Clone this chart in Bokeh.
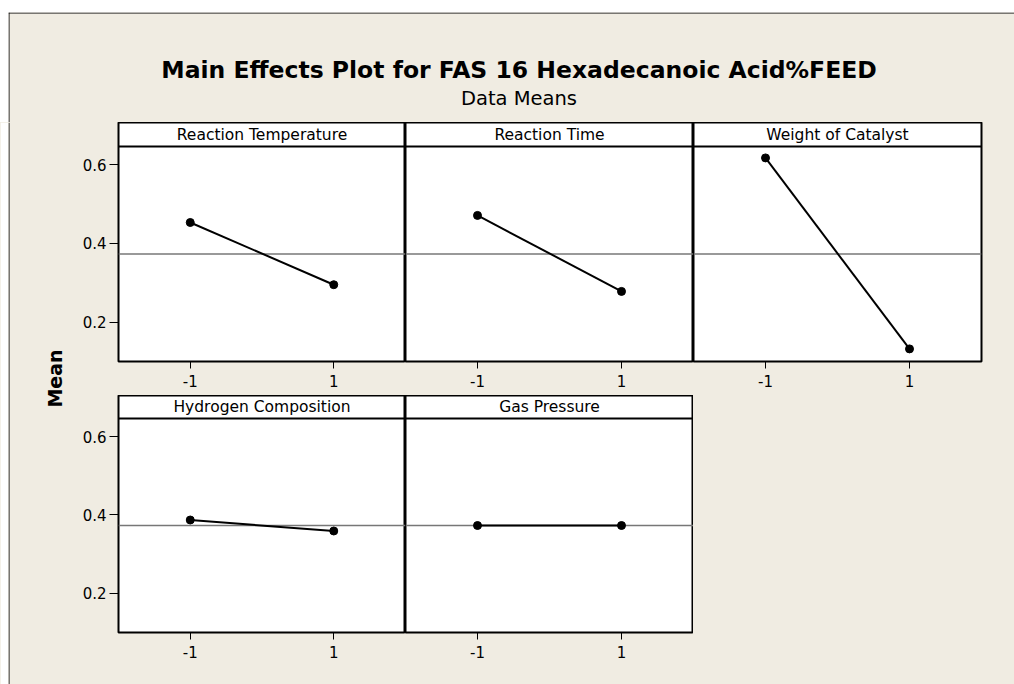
import numpy as np
from bokeh.plotting import figure
from bokeh.layouts import row, column
from bokeh.models import Range1d, Span, Label, FixedTicker, ColumnDataSource
from bokeh.embed import file_html
from bokeh.resources import INLINE

# ---------------- data ----------------
factors = ["Reaction Temperature", "Reaction Time", "Weight of Catalyst",
           "Hydrogen Composition", "Gas Pressure"]
levels = [-1, 1]
level_labels = ["-1", "1"]
mean_low = [0.453, 0.471, 0.617, 0.387, 0.373]
mean_high = [0.295, 0.278, 0.132, 0.359, 0.373]
grand_mean = 0.373
y_ticks = [0.2, 0.4, 0.6]
y_tick_labels = ["0.2", "0.4", "0.6"]
title_text = "Main Effects Plot for FAS 16 Hexadecanoic Acid%FEED"
subtitle_text = "Data Means"
ylabel_text = "Mean"

# ---------------- layout / style ----------------
BG = "#F0ECE2"
FONT = "DejaVu Sans"
TOTAL_W = 1014
TITLE_H = 122
PAGE_L, PAGE_T = 8, 12          # white margin before the graph border
MEAN_W = 78
LEFT_B = 40
COL_W = [287, 288, 288]
RIGHT_B = TOTAL_W - MEAN_W - LEFT_B - sum(COL_W)
ROW_FRAME = [239, 237]
HEADER = [24, 23]
ROW_BOTTOM = [34, 52]
Y0, Y1 = 0.10, 0.646
X0, X1 = -2, 2


def make_panel(i, r, c):
    fw = COL_W[c]
    left = LEFT_B if c == 0 else 0
    right = RIGHT_B if c == 2 else 0
    plot_px = ROW_FRAME[r] - HEADER[r]
    ppu = plot_px / (Y1 - Y0)
    y_end = Y1 + HEADER[r] / ppu
    p = figure(width=fw + left + right, height=ROW_FRAME[r] + ROW_BOTTOM[r],
               x_range=Range1d(X0, X1), y_range=Range1d(Y0, y_end),
               output_backend="svg", toolbar_location=None,
               min_border_left=left, min_border_right=right,
               min_border_top=0, min_border_bottom=ROW_BOTTOM[r],
               y_axis_type="linear" if c == 0 else None, title=None)
    p.grid.visible = False
    p.background_fill_color = "white"
    p.border_fill_color = BG
    p.outline_line_color = "black"
    p.outline_line_width = 2

    xa = p.xaxis[0]
    xa.ticker = FixedTicker(ticks=levels)
    xa.major_label_overrides = dict(zip(levels, level_labels))
    xa.axis_line_color = None
    xa.major_tick_out = 7
    xa.major_tick_in = 0
    xa.major_tick_line_color = "black"
    xa.minor_tick_line_color = None
    xa.major_label_standoff = 6
    xa.major_label_text_font = FONT
    xa.major_label_text_font_size = "15px"
    xa.major_label_text_color = "black"

    if c == 0:
        ya = p.yaxis[0]
        ya.ticker = FixedTicker(ticks=y_ticks)
        ya.major_label_overrides = dict(zip(y_ticks, y_tick_labels))
        ya.axis_line_color = None
        ya.major_tick_out = 9
        ya.major_tick_in = 0
        ya.major_tick_line_color = "black"
        ya.minor_tick_line_color = None
        ya.major_label_standoff = 3
        ya.major_label_text_font = FONT
        ya.major_label_text_font_size = "15px"
        ya.major_label_text_color = "black"

    # grand mean reference line (beneath the data)
    p.add_layout(Span(location=grand_mean, dimension="width",
                      line_color="#777777", line_width=1.5, level="underlay"))
    # header strip separator and label
    p.add_layout(Span(location=Y1, dimension="width",
                      line_color="black", line_width=2))
    p.add_layout(Label(x=(X0 + X1) / 2, y=Y1 + HEADER[r] / 2 / ppu,
                       text=factors[i], text_align="center",
                       text_baseline="middle", text_font=FONT,
                       text_font_size="15.5px", text_color="black"))

    src = ColumnDataSource(dict(x=levels, y=[mean_low[i], mean_high[i]]))
    p.line("x", "y", source=src, line_color="black", line_width=2)
    p.scatter("x", "y", source=src, size=8, fill_color="black",
              line_color="black")
    return p


panels = []
positions = [(0, 0), (0, 1), (0, 2), (1, 0), (1, 1)]
for i, (r, c) in enumerate(positions):
    panels.append(make_panel(i, r, c))

# title area (screen-like coordinates: y grows downward)
tf = figure(width=TOTAL_W, height=TITLE_H,
            x_range=Range1d(PAGE_L, TOTAL_W), y_range=Range1d(TITLE_H, PAGE_T),
            x_axis_type=None, y_axis_type=None,
            min_border_left=PAGE_L, min_border_top=PAGE_T,
            min_border_right=0, min_border_bottom=0,
            toolbar_location=None, output_backend="svg", title=None)
tf.outline_line_color = None
tf.background_fill_color = BG
tf.border_fill_color = "white"
tf.add_layout(Label(x=518.5, y=69, text=title_text,
                    text_align="center", text_baseline="alphabetic",
                    text_font=FONT, text_font_style="bold",
                    text_font_size="23.5px", text_color="black"))
tf.add_layout(Label(x=518.5, y=98, text=subtitle_text,
                    text_align="center", text_baseline="alphabetic",
                    text_font=FONT, text_font_size="19.5px",
                    text_color="black"))
tf.add_layout(Span(location=PAGE_T + 0.5, dimension="width",
                   line_color="black", line_width=1))
tf.add_layout(Span(location=PAGE_L + 0.5, dimension="height",
                   line_color="black", line_width=1))

# left "Mean" label area
body_h = ROW_FRAME[0] + ROW_BOTTOM[0] + ROW_FRAME[1] + ROW_BOTTOM[1]
mf = figure(width=MEAN_W, height=body_h,
            x_range=Range1d(PAGE_L, MEAN_W),
            y_range=Range1d(TITLE_H + body_h, TITLE_H),
            x_axis_type=None, y_axis_type=None,
            min_border_left=PAGE_L, min_border_top=0,
            min_border_right=0, min_border_bottom=0,
            toolbar_location=None, output_backend="svg", title=None)
mf.outline_line_color = None
mf.background_fill_color = BG
mf.border_fill_color = "white"
mf.add_layout(Label(x=54, y=378, text=ylabel_text,
                    angle=np.pi / 2, text_align="center",
                    text_baseline="middle", text_font=FONT,
                    text_font_style="bold", text_font_size="19px",
                    text_color="black"))
mf.add_layout(Span(location=PAGE_L + 0.5, dimension="height",
                   line_color="black", line_width=1))

# empty filler cell
ff = figure(width=COL_W[2] + RIGHT_B, height=ROW_FRAME[1] + ROW_BOTTOM[1],
            x_axis_type=None, y_axis_type=None, min_border=0,
            toolbar_location=None, output_backend="svg", title=None)
ff.outline_line_color = None
ff.background_fill_color = BG
ff.border_fill_color = BG
ff.grid.visible = False

bgstyle = {"background-color": BG}
layout = column(
    tf,
    row(mf,
        column(row(panels[0], panels[1], panels[2], styles=bgstyle),
               row(panels[3], panels[4], ff, styles=bgstyle),
               styles=bgstyle),
        styles=bgstyle),
)

open("out.html", "w").write(file_html(layout, INLINE))
